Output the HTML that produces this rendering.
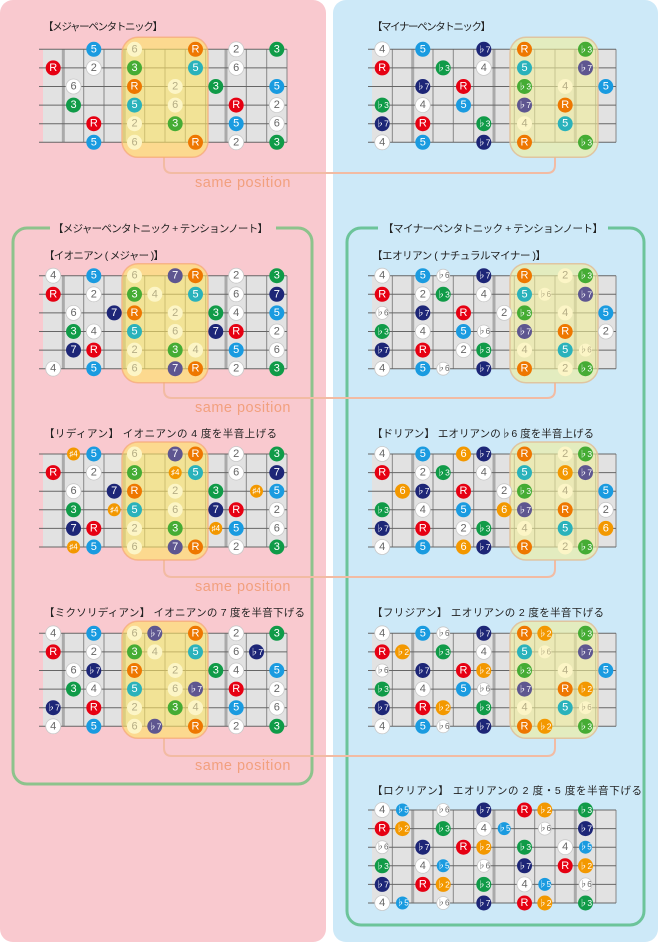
<!DOCTYPE html>
<html><head><meta charset="utf-8"><style>
html,body{margin:0;padding:0;background:#fff;width:658px;height:942px;overflow:hidden}
svg{display:block}
text{font-family:"Liberation Sans","Noto Sans CJK JP",sans-serif}
.n circle{r:7.5px}
.n text{font-size:11px;fill:#fff;text-anchor:middle;dominant-baseline:central}
.n .f{font-size:8.5px}
.s circle{r:6.5px}
.s text{font-size:8px}
.W circle{fill:#fff;stroke:#c8c8c8;stroke-width:.8}.W text{fill:#666}
.C circle{fill:#fcf5c6}.C text{fill:#b5ad85}
.R circle{fill:#e60012}.O circle{fill:#ee7700}.B circle{fill:#1a9be0}.T circle{fill:#2ab2bb}
.G circle{fill:#109b48}.L circle{fill:#45ac34}.N circle{fill:#1d2677}.P circle{fill:#5e5690}.Y circle{fill:#f39800}
.ttl{font-size:10.5px;fill:#222}
.sp{font-size:14.5px;fill:#f2a07e;letter-spacing:.5px}
.bl{fill:rgba(254,228,100,.6);stroke:rgba(245,170,120,.75);stroke-width:1.5}
.br{fill:rgba(242,238,153,.6);stroke:rgba(225,190,150,.85);stroke-width:1.5}
</style></head><body>
<svg width="658" height="942" viewBox="0 0 658 942" xmlns="http://www.w3.org/2000/svg">
<defs>
<g id="bdL">
<rect width="244" height="93" fill="#e2e2e2"/>
<g stroke="#aaa" stroke-width="3"><line x1="20.33" y1="0" x2="20.33" y2="93"/><line x1="81.3" y1="0" x2="81.3" y2="93"/><line x1="183" y1="0" x2="183" y2="93"/></g>
<g stroke="#888" stroke-width="1"><line x1="40.7" y1="0" x2="40.7" y2="93"/><line x1="61" y1="0" x2="61" y2="93"/><line x1="101.7" y1="0" x2="101.7" y2="93"/><line x1="122" y1="0" x2="122" y2="93"/><line x1="142.3" y1="0" x2="142.3" y2="93"/><line x1="162.7" y1="0" x2="162.7" y2="93"/><line x1="203.3" y1="0" x2="203.3" y2="93"/><line x1="223.7" y1="0" x2="223.7" y2="93"/><line x1="244" y1="0" x2="244" y2="93"/></g>
<g stroke="#666" stroke-width="1"><line x1="-4" y1="0" x2="244" y2="0"/><line x1="-4" y1="18.6" x2="244" y2="18.6"/><line x1="-4" y1="37.2" x2="244" y2="37.2"/><line x1="-4" y1="55.8" x2="244" y2="55.8"/><line x1="-4" y1="74.4" x2="244" y2="74.4"/><line x1="-4" y1="93" x2="244" y2="93"/></g>
</g>
<g id="bdR">
<rect width="244" height="93" fill="#e2e2e2"/>
<g stroke="#aaa" stroke-width="3"><line x1="40.7" y1="0" x2="40.7" y2="93"/><line x1="122" y1="0" x2="122" y2="93"/><line x1="203.3" y1="0" x2="203.3" y2="93"/></g>
<g stroke="#888" stroke-width="1"><line x1="20.33" y1="0" x2="20.33" y2="93"/><line x1="61" y1="0" x2="61" y2="93"/><line x1="81.3" y1="0" x2="81.3" y2="93"/><line x1="101.7" y1="0" x2="101.7" y2="93"/><line x1="142.3" y1="0" x2="142.3" y2="93"/><line x1="162.7" y1="0" x2="162.7" y2="93"/><line x1="183" y1="0" x2="183" y2="93"/><line x1="223.7" y1="0" x2="223.7" y2="93"/><line x1="244" y1="0" x2="244" y2="93"/></g>
<g stroke="#666" stroke-width="1"><line x1="-4" y1="0" x2="244" y2="0"/><line x1="-4" y1="18.6" x2="244" y2="18.6"/><line x1="-4" y1="37.2" x2="244" y2="37.2"/><line x1="-4" y1="55.8" x2="244" y2="55.8"/><line x1="-4" y1="74.4" x2="244" y2="74.4"/><line x1="-4" y1="93" x2="244" y2="93"/></g>
</g>
</defs>

<rect x="0" y="0" width="326" height="942" rx="13" fill="#f9c9cf"/>
<rect x="333" y="0" width="325" height="942" rx="13" fill="#cde9f8"/>

<rect x="13" y="228" width="299" height="556" rx="14" fill="none" stroke="#8dc38c" stroke-width="3"/>
<rect x="50" y="220" width="226" height="16" fill="#f9c9cf"/>
<text class="ttl" x="53" y="232" textLength="215">【メジャーペンタトニック + テンションノート】</text>
<rect x="347" y="228" width="297" height="697" rx="14" fill="none" stroke="#6cc49a" stroke-width="3"/>
<rect x="378" y="220" width="230" height="16" fill="#cde9f8"/>
<text class="ttl" x="383" y="232" textLength="220">【マイナーペンタトニック + テンションノート】</text>

<g fill="none" stroke="#f2bba3" stroke-width="2">
<path d="M164,157 V165 Q164,173 172,173 H547 Q555,173 555,165 V157"/>
<path d="M164,382 V390 Q164,398 172,398 H547 Q555,398 555,390 V382"/>
<path d="M164,560 V569 Q164,577 172,577 H547 Q555,577 555,569 V560"/>
<path d="M164,738 V748 Q164,756 172,756 H547 Q555,756 555,748 V738"/>
</g>
<text class="sp" x="195" y="187">same position</text>
<text class="sp" x="195" y="412">same position</text>
<text class="sp" x="195" y="591">same position</text>
<text class="sp" x="195" y="770">same position</text>

<text class="ttl" x="43" y="30" textLength="120">【メジャーペンタトニック】</text>
<text class="ttl" x="372" y="30" textLength="119">【マイナーペンタトニック】</text>
<text class="ttl" x="44" y="259" textLength="120">【イオニアン ( メジャー )】</text>
<text class="ttl" x="372" y="259" textLength="174">【エオリアン ( ナチュラルマイナー )】</text>
<text class="ttl" x="44" y="437" textLength="233">【リディアン】 イオニアンの 4 度を半音上げる</text>
<text class="ttl" x="372" y="437" textLength="222">【ドリアン】 エオリアンの♭6 度を半音上げる</text>
<text class="ttl" x="44" y="616" textLength="261">【ミクソリディアン】 イオニアンの 7 度を半音下げる</text>
<text class="ttl" x="372" y="616" textLength="232">【フリジアン】 エオリアンの 2 度を半音下げる</text>
<text class="ttl" x="372" y="794" textLength="270">【ロクリアン】 エオリアンの 2 度・5 度を半音下げる</text>

<g transform="translate(43,49.3)">
<use href="#bdL"/><rect class="bl" x="79" y="-12" width="86" height="120" rx="16"/>
<g class="n">
<g class="B" transform="translate(50.8,0)"><circle/><text>5</text></g>
<g class="C" transform="translate(91.5,0)"><circle/><text>6</text></g>
<g class="O" transform="translate(152.5,0)"><circle/><text>R</text></g>
<g class="W" transform="translate(193.2,0)"><circle/><text>2</text></g>
<g class="G" transform="translate(233.8,0)"><circle/><text>3</text></g>
<g class="R" transform="translate(10.2,18.6)"><circle/><text>R</text></g>
<g class="W" transform="translate(50.8,18.6)"><circle/><text>2</text></g>
<g class="L" transform="translate(91.5,18.6)"><circle/><text>3</text></g>
<g class="T" transform="translate(152.5,18.6)"><circle/><text>5</text></g>
<g class="W" transform="translate(193.2,18.6)"><circle/><text>6</text></g>
<g class="W" transform="translate(30.5,37.2)"><circle/><text>6</text></g>
<g class="O" transform="translate(91.5,37.2)"><circle/><text>R</text></g>
<g class="C" transform="translate(132.2,37.2)"><circle/><text>2</text></g>
<g class="G" transform="translate(172.8,37.2)"><circle/><text>3</text></g>
<g class="B" transform="translate(233.8,37.2)"><circle/><text>5</text></g>
<g class="G" transform="translate(30.5,55.8)"><circle/><text>3</text></g>
<g class="T" transform="translate(91.5,55.8)"><circle/><text>5</text></g>
<g class="C" transform="translate(132.2,55.8)"><circle/><text>6</text></g>
<g class="R" transform="translate(193.2,55.8)"><circle/><text>R</text></g>
<g class="W" transform="translate(233.8,55.8)"><circle/><text>2</text></g>
<g class="R" transform="translate(50.8,74.4)"><circle/><text>R</text></g>
<g class="C" transform="translate(91.5,74.4)"><circle/><text>2</text></g>
<g class="L" transform="translate(132.2,74.4)"><circle/><text>3</text></g>
<g class="B" transform="translate(193.2,74.4)"><circle/><text>5</text></g>
<g class="W" transform="translate(233.8,74.4)"><circle/><text>6</text></g>
<g class="B" transform="translate(50.8,93)"><circle/><text>5</text></g>
<g class="C" transform="translate(91.5,93)"><circle/><text>6</text></g>
<g class="O" transform="translate(152.5,93)"><circle/><text>R</text></g>
<g class="W" transform="translate(193.2,93)"><circle/><text>2</text></g>
<g class="G" transform="translate(233.8,93)"><circle/><text>3</text></g>
</g></g>

<g transform="translate(372,49.3)">
<use href="#bdR"/><rect class="br" x="138" y="-12" width="88" height="120" rx="16"/>
<g class="n">
<g class="W" transform="translate(10.2,0)"><circle/><text>4</text></g>
<g class="B" transform="translate(50.8,0)"><circle/><text>5</text></g>
<g class="N" transform="translate(111.8,0)"><circle/><text class="f">♭7</text></g>
<g class="O" transform="translate(152.5,0)"><circle/><text>R</text></g>
<g class="L" transform="translate(213.5,0)"><circle/><text class="f">♭3</text></g>
<g class="R" transform="translate(10.2,18.6)"><circle/><text>R</text></g>
<g class="G" transform="translate(71.2,18.6)"><circle/><text class="f">♭3</text></g>
<g class="W" transform="translate(111.8,18.6)"><circle/><text>4</text></g>
<g class="T" transform="translate(152.5,18.6)"><circle/><text>5</text></g>
<g class="P" transform="translate(213.5,18.6)"><circle/><text class="f">♭7</text></g>
<g class="N" transform="translate(50.8,37.2)"><circle/><text class="f">♭7</text></g>
<g class="R" transform="translate(91.5,37.2)"><circle/><text>R</text></g>
<g class="L" transform="translate(152.5,37.2)"><circle/><text class="f">♭3</text></g>
<g class="C" transform="translate(193.2,37.2)"><circle/><text>4</text></g>
<g class="B" transform="translate(233.8,37.2)"><circle/><text>5</text></g>
<g class="G" transform="translate(10.2,55.8)"><circle/><text class="f">♭3</text></g>
<g class="W" transform="translate(50.8,55.8)"><circle/><text>4</text></g>
<g class="B" transform="translate(91.5,55.8)"><circle/><text>5</text></g>
<g class="P" transform="translate(152.5,55.8)"><circle/><text class="f">♭7</text></g>
<g class="O" transform="translate(193.2,55.8)"><circle/><text>R</text></g>
<g class="N" transform="translate(10.2,74.4)"><circle/><text class="f">♭7</text></g>
<g class="R" transform="translate(50.8,74.4)"><circle/><text>R</text></g>
<g class="G" transform="translate(111.8,74.4)"><circle/><text class="f">♭3</text></g>
<g class="C" transform="translate(152.5,74.4)"><circle/><text>4</text></g>
<g class="T" transform="translate(193.2,74.4)"><circle/><text>5</text></g>
<g class="W" transform="translate(10.2,93)"><circle/><text>4</text></g>
<g class="B" transform="translate(50.8,93)"><circle/><text>5</text></g>
<g class="N" transform="translate(111.8,93)"><circle/><text class="f">♭7</text></g>
<g class="O" transform="translate(152.5,93)"><circle/><text>R</text></g>
<g class="L" transform="translate(213.5,93)"><circle/><text class="f">♭3</text></g>
</g></g>

<g transform="translate(43,275.7)">
<use href="#bdL"/><rect class="bl" x="79" y="-12" width="86" height="119" rx="16"/>
<g class="n">
<g class="W" transform="translate(10.2,0)"><circle/><text>4</text></g>
<g class="B" transform="translate(50.8,0)"><circle/><text>5</text></g>
<g class="C" transform="translate(91.5,0)"><circle/><text>6</text></g>
<g class="P" transform="translate(132.2,0)"><circle/><text>7</text></g>
<g class="O" transform="translate(152.5,0)"><circle/><text>R</text></g>
<g class="W" transform="translate(193.2,0)"><circle/><text>2</text></g>
<g class="G" transform="translate(233.8,0)"><circle/><text>3</text></g>
<g class="R" transform="translate(10.2,18.6)"><circle/><text>R</text></g>
<g class="W" transform="translate(50.8,18.6)"><circle/><text>2</text></g>
<g class="L" transform="translate(91.5,18.6)"><circle/><text>3</text></g>
<g class="C" transform="translate(111.8,18.6)"><circle/><text>4</text></g>
<g class="T" transform="translate(152.5,18.6)"><circle/><text>5</text></g>
<g class="W" transform="translate(193.2,18.6)"><circle/><text>6</text></g>
<g class="N" transform="translate(233.8,18.6)"><circle/><text>7</text></g>
<g class="W" transform="translate(30.5,37.2)"><circle/><text>6</text></g>
<g class="N" transform="translate(71.2,37.2)"><circle/><text>7</text></g>
<g class="O" transform="translate(91.5,37.2)"><circle/><text>R</text></g>
<g class="C" transform="translate(132.2,37.2)"><circle/><text>2</text></g>
<g class="G" transform="translate(172.8,37.2)"><circle/><text>3</text></g>
<g class="W" transform="translate(193.2,37.2)"><circle/><text>4</text></g>
<g class="B" transform="translate(233.8,37.2)"><circle/><text>5</text></g>
<g class="G" transform="translate(30.5,55.8)"><circle/><text>3</text></g>
<g class="W" transform="translate(50.8,55.8)"><circle/><text>4</text></g>
<g class="T" transform="translate(91.5,55.8)"><circle/><text>5</text></g>
<g class="C" transform="translate(132.2,55.8)"><circle/><text>6</text></g>
<g class="N" transform="translate(172.8,55.8)"><circle/><text>7</text></g>
<g class="R" transform="translate(193.2,55.8)"><circle/><text>R</text></g>
<g class="W" transform="translate(233.8,55.8)"><circle/><text>2</text></g>
<g class="N" transform="translate(30.5,74.4)"><circle/><text>7</text></g>
<g class="R" transform="translate(50.8,74.4)"><circle/><text>R</text></g>
<g class="C" transform="translate(91.5,74.4)"><circle/><text>2</text></g>
<g class="L" transform="translate(132.2,74.4)"><circle/><text>3</text></g>
<g class="C" transform="translate(152.5,74.4)"><circle/><text>4</text></g>
<g class="B" transform="translate(193.2,74.4)"><circle/><text>5</text></g>
<g class="W" transform="translate(233.8,74.4)"><circle/><text>6</text></g>
<g class="W" transform="translate(10.2,93)"><circle/><text>4</text></g>
<g class="B" transform="translate(50.8,93)"><circle/><text>5</text></g>
<g class="C" transform="translate(91.5,93)"><circle/><text>6</text></g>
<g class="P" transform="translate(132.2,93)"><circle/><text>7</text></g>
<g class="O" transform="translate(152.5,93)"><circle/><text>R</text></g>
<g class="W" transform="translate(193.2,93)"><circle/><text>2</text></g>
<g class="G" transform="translate(233.8,93)"><circle/><text>3</text></g>
</g></g>

<g transform="translate(372,275.7)">
<use href="#bdR"/><rect class="br" x="138" y="-12" width="88" height="119" rx="16"/>
<g class="n">
<g class="W" transform="translate(10.2,0)"><circle/><text>4</text></g>
<g class="B" transform="translate(50.8,0)"><circle/><text>5</text></g>
<g class="W s" transform="translate(71.2,0)"><circle/><text>♭6</text></g>
<g class="N" transform="translate(111.8,0)"><circle/><text class="f">♭7</text></g>
<g class="O" transform="translate(152.5,0)"><circle/><text>R</text></g>
<g class="C" transform="translate(193.2,0)"><circle/><text>2</text></g>
<g class="L" transform="translate(213.5,0)"><circle/><text class="f">♭3</text></g>
<g class="R" transform="translate(10.2,18.6)"><circle/><text>R</text></g>
<g class="W" transform="translate(50.8,18.6)"><circle/><text>2</text></g>
<g class="G" transform="translate(71.2,18.6)"><circle/><text class="f">♭3</text></g>
<g class="W" transform="translate(111.8,18.6)"><circle/><text>4</text></g>
<g class="T" transform="translate(152.5,18.6)"><circle/><text>5</text></g>
<g class="C s" transform="translate(172.8,18.6)"><circle/><text>♭6</text></g>
<g class="P" transform="translate(213.5,18.6)"><circle/><text class="f">♭7</text></g>
<g class="W s" transform="translate(10.2,37.2)"><circle/><text>♭6</text></g>
<g class="N" transform="translate(50.8,37.2)"><circle/><text class="f">♭7</text></g>
<g class="R" transform="translate(91.5,37.2)"><circle/><text>R</text></g>
<g class="W" transform="translate(132.2,37.2)"><circle/><text>2</text></g>
<g class="L" transform="translate(152.5,37.2)"><circle/><text class="f">♭3</text></g>
<g class="C" transform="translate(193.2,37.2)"><circle/><text>4</text></g>
<g class="B" transform="translate(233.8,37.2)"><circle/><text>5</text></g>
<g class="G" transform="translate(10.2,55.8)"><circle/><text class="f">♭3</text></g>
<g class="W" transform="translate(50.8,55.8)"><circle/><text>4</text></g>
<g class="B" transform="translate(91.5,55.8)"><circle/><text>5</text></g>
<g class="W s" transform="translate(111.8,55.8)"><circle/><text>♭6</text></g>
<g class="P" transform="translate(152.5,55.8)"><circle/><text class="f">♭7</text></g>
<g class="O" transform="translate(193.2,55.8)"><circle/><text>R</text></g>
<g class="W" transform="translate(233.8,55.8)"><circle/><text>2</text></g>
<g class="N" transform="translate(10.2,74.4)"><circle/><text class="f">♭7</text></g>
<g class="R" transform="translate(50.8,74.4)"><circle/><text>R</text></g>
<g class="W" transform="translate(91.5,74.4)"><circle/><text>2</text></g>
<g class="G" transform="translate(111.8,74.4)"><circle/><text class="f">♭3</text></g>
<g class="C" transform="translate(152.5,74.4)"><circle/><text>4</text></g>
<g class="T" transform="translate(193.2,74.4)"><circle/><text>5</text></g>
<g class="C s" transform="translate(213.5,74.4)"><circle/><text>♭6</text></g>
<g class="W" transform="translate(10.2,93)"><circle/><text>4</text></g>
<g class="B" transform="translate(50.8,93)"><circle/><text>5</text></g>
<g class="W s" transform="translate(71.2,93)"><circle/><text>♭6</text></g>
<g class="N" transform="translate(111.8,93)"><circle/><text class="f">♭7</text></g>
<g class="O" transform="translate(152.5,93)"><circle/><text>R</text></g>
<g class="C" transform="translate(193.2,93)"><circle/><text>2</text></g>
<g class="L" transform="translate(213.5,93)"><circle/><text class="f">♭3</text></g>
</g></g>

<g transform="translate(43,454)">
<use href="#bdL"/><rect class="bl" x="79" y="-12" width="86" height="118" rx="16"/>
<g class="n">
<g class="Y s" transform="translate(30.5,0)"><circle/><text>♯4</text></g>
<g class="B" transform="translate(50.8,0)"><circle/><text>5</text></g>
<g class="C" transform="translate(91.5,0)"><circle/><text>6</text></g>
<g class="P" transform="translate(132.2,0)"><circle/><text>7</text></g>
<g class="O" transform="translate(152.5,0)"><circle/><text>R</text></g>
<g class="W" transform="translate(193.2,0)"><circle/><text>2</text></g>
<g class="G" transform="translate(233.8,0)"><circle/><text>3</text></g>
<g class="R" transform="translate(10.2,18.6)"><circle/><text>R</text></g>
<g class="W" transform="translate(50.8,18.6)"><circle/><text>2</text></g>
<g class="L" transform="translate(91.5,18.6)"><circle/><text>3</text></g>
<g class="Y s" transform="translate(132.2,18.6)"><circle/><text>♯4</text></g>
<g class="T" transform="translate(152.5,18.6)"><circle/><text>5</text></g>
<g class="W" transform="translate(193.2,18.6)"><circle/><text>6</text></g>
<g class="N" transform="translate(233.8,18.6)"><circle/><text>7</text></g>
<g class="W" transform="translate(30.5,37.2)"><circle/><text>6</text></g>
<g class="N" transform="translate(71.2,37.2)"><circle/><text>7</text></g>
<g class="O" transform="translate(91.5,37.2)"><circle/><text>R</text></g>
<g class="C" transform="translate(132.2,37.2)"><circle/><text>2</text></g>
<g class="G" transform="translate(172.8,37.2)"><circle/><text>3</text></g>
<g class="Y s" transform="translate(213.5,37.2)"><circle/><text>♯4</text></g>
<g class="B" transform="translate(233.8,37.2)"><circle/><text>5</text></g>
<g class="G" transform="translate(30.5,55.8)"><circle/><text>3</text></g>
<g class="Y s" transform="translate(71.2,55.8)"><circle/><text>♯4</text></g>
<g class="T" transform="translate(91.5,55.8)"><circle/><text>5</text></g>
<g class="C" transform="translate(132.2,55.8)"><circle/><text>6</text></g>
<g class="N" transform="translate(172.8,55.8)"><circle/><text>7</text></g>
<g class="R" transform="translate(193.2,55.8)"><circle/><text>R</text></g>
<g class="W" transform="translate(233.8,55.8)"><circle/><text>2</text></g>
<g class="N" transform="translate(30.5,74.4)"><circle/><text>7</text></g>
<g class="R" transform="translate(50.8,74.4)"><circle/><text>R</text></g>
<g class="C" transform="translate(91.5,74.4)"><circle/><text>2</text></g>
<g class="L" transform="translate(132.2,74.4)"><circle/><text>3</text></g>
<g class="Y s" transform="translate(172.8,74.4)"><circle/><text>♯4</text></g>
<g class="B" transform="translate(193.2,74.4)"><circle/><text>5</text></g>
<g class="W" transform="translate(233.8,74.4)"><circle/><text>6</text></g>
<g class="Y s" transform="translate(30.5,93)"><circle/><text>♯4</text></g>
<g class="B" transform="translate(50.8,93)"><circle/><text>5</text></g>
<g class="C" transform="translate(91.5,93)"><circle/><text>6</text></g>
<g class="P" transform="translate(132.2,93)"><circle/><text>7</text></g>
<g class="O" transform="translate(152.5,93)"><circle/><text>R</text></g>
<g class="W" transform="translate(193.2,93)"><circle/><text>2</text></g>
<g class="G" transform="translate(233.8,93)"><circle/><text>3</text></g>
</g></g>

<g transform="translate(372,454)">
<use href="#bdR"/><rect class="br" x="138" y="-12" width="88" height="118" rx="16"/>
<g class="n">
<g class="W" transform="translate(10.2,0)"><circle/><text>4</text></g>
<g class="B" transform="translate(50.8,0)"><circle/><text>5</text></g>
<g class="Y" transform="translate(91.5,0)"><circle/><text>6</text></g>
<g class="N" transform="translate(111.8,0)"><circle/><text class="f">♭7</text></g>
<g class="O" transform="translate(152.5,0)"><circle/><text>R</text></g>
<g class="C" transform="translate(193.2,0)"><circle/><text>2</text></g>
<g class="L" transform="translate(213.5,0)"><circle/><text class="f">♭3</text></g>
<g class="R" transform="translate(10.2,18.6)"><circle/><text>R</text></g>
<g class="W" transform="translate(50.8,18.6)"><circle/><text>2</text></g>
<g class="G" transform="translate(71.2,18.6)"><circle/><text class="f">♭3</text></g>
<g class="W" transform="translate(111.8,18.6)"><circle/><text>4</text></g>
<g class="T" transform="translate(152.5,18.6)"><circle/><text>5</text></g>
<g class="Y" transform="translate(193.2,18.6)"><circle/><text>6</text></g>
<g class="P" transform="translate(213.5,18.6)"><circle/><text class="f">♭7</text></g>
<g class="Y" transform="translate(30.5,37.2)"><circle/><text>6</text></g>
<g class="N" transform="translate(50.8,37.2)"><circle/><text class="f">♭7</text></g>
<g class="R" transform="translate(91.5,37.2)"><circle/><text>R</text></g>
<g class="W" transform="translate(132.2,37.2)"><circle/><text>2</text></g>
<g class="L" transform="translate(152.5,37.2)"><circle/><text class="f">♭3</text></g>
<g class="C" transform="translate(193.2,37.2)"><circle/><text>4</text></g>
<g class="B" transform="translate(233.8,37.2)"><circle/><text>5</text></g>
<g class="G" transform="translate(10.2,55.8)"><circle/><text class="f">♭3</text></g>
<g class="W" transform="translate(50.8,55.8)"><circle/><text>4</text></g>
<g class="B" transform="translate(91.5,55.8)"><circle/><text>5</text></g>
<g class="Y" transform="translate(132.2,55.8)"><circle/><text>6</text></g>
<g class="P" transform="translate(152.5,55.8)"><circle/><text class="f">♭7</text></g>
<g class="O" transform="translate(193.2,55.8)"><circle/><text>R</text></g>
<g class="W" transform="translate(233.8,55.8)"><circle/><text>2</text></g>
<g class="N" transform="translate(10.2,74.4)"><circle/><text class="f">♭7</text></g>
<g class="R" transform="translate(50.8,74.4)"><circle/><text>R</text></g>
<g class="W" transform="translate(91.5,74.4)"><circle/><text>2</text></g>
<g class="G" transform="translate(111.8,74.4)"><circle/><text class="f">♭3</text></g>
<g class="C" transform="translate(152.5,74.4)"><circle/><text>4</text></g>
<g class="T" transform="translate(193.2,74.4)"><circle/><text>5</text></g>
<g class="Y" transform="translate(233.8,74.4)"><circle/><text>6</text></g>
<g class="W" transform="translate(10.2,93)"><circle/><text>4</text></g>
<g class="B" transform="translate(50.8,93)"><circle/><text>5</text></g>
<g class="Y" transform="translate(91.5,93)"><circle/><text>6</text></g>
<g class="N" transform="translate(111.8,93)"><circle/><text class="f">♭7</text></g>
<g class="O" transform="translate(152.5,93)"><circle/><text>R</text></g>
<g class="C" transform="translate(193.2,93)"><circle/><text>2</text></g>
<g class="L" transform="translate(213.5,93)"><circle/><text class="f">♭3</text></g>
</g></g>

<g transform="translate(43,633.3)">
<use href="#bdL"/><rect class="bl" x="79" y="-12" width="86" height="117" rx="16"/>
<g class="n">
<g class="W" transform="translate(10.2,0)"><circle/><text>4</text></g>
<g class="B" transform="translate(50.8,0)"><circle/><text>5</text></g>
<g class="C" transform="translate(91.5,0)"><circle/><text>6</text></g>
<g class="P" transform="translate(111.8,0)"><circle/><text class="f">♭7</text></g>
<g class="O" transform="translate(152.5,0)"><circle/><text>R</text></g>
<g class="W" transform="translate(193.2,0)"><circle/><text>2</text></g>
<g class="G" transform="translate(233.8,0)"><circle/><text>3</text></g>
<g class="R" transform="translate(10.2,18.6)"><circle/><text>R</text></g>
<g class="W" transform="translate(50.8,18.6)"><circle/><text>2</text></g>
<g class="L" transform="translate(91.5,18.6)"><circle/><text>3</text></g>
<g class="C" transform="translate(111.8,18.6)"><circle/><text>4</text></g>
<g class="T" transform="translate(152.5,18.6)"><circle/><text>5</text></g>
<g class="W" transform="translate(193.2,18.6)"><circle/><text>6</text></g>
<g class="N" transform="translate(213.5,18.6)"><circle/><text class="f">♭7</text></g>
<g class="W" transform="translate(30.5,37.2)"><circle/><text>6</text></g>
<g class="N" transform="translate(50.8,37.2)"><circle/><text class="f">♭7</text></g>
<g class="O" transform="translate(91.5,37.2)"><circle/><text>R</text></g>
<g class="C" transform="translate(132.2,37.2)"><circle/><text>2</text></g>
<g class="G" transform="translate(172.8,37.2)"><circle/><text>3</text></g>
<g class="W" transform="translate(193.2,37.2)"><circle/><text>4</text></g>
<g class="B" transform="translate(233.8,37.2)"><circle/><text>5</text></g>
<g class="G" transform="translate(30.5,55.8)"><circle/><text>3</text></g>
<g class="W" transform="translate(50.8,55.8)"><circle/><text>4</text></g>
<g class="T" transform="translate(91.5,55.8)"><circle/><text>5</text></g>
<g class="C" transform="translate(132.2,55.8)"><circle/><text>6</text></g>
<g class="P" transform="translate(152.5,55.8)"><circle/><text class="f">♭7</text></g>
<g class="R" transform="translate(193.2,55.8)"><circle/><text>R</text></g>
<g class="W" transform="translate(233.8,55.8)"><circle/><text>2</text></g>
<g class="N" transform="translate(10.2,74.4)"><circle/><text class="f">♭7</text></g>
<g class="R" transform="translate(50.8,74.4)"><circle/><text>R</text></g>
<g class="C" transform="translate(91.5,74.4)"><circle/><text>2</text></g>
<g class="L" transform="translate(132.2,74.4)"><circle/><text>3</text></g>
<g class="C" transform="translate(152.5,74.4)"><circle/><text>4</text></g>
<g class="B" transform="translate(193.2,74.4)"><circle/><text>5</text></g>
<g class="W" transform="translate(233.8,74.4)"><circle/><text>6</text></g>
<g class="W" transform="translate(10.2,93)"><circle/><text>4</text></g>
<g class="B" transform="translate(50.8,93)"><circle/><text>5</text></g>
<g class="C" transform="translate(91.5,93)"><circle/><text>6</text></g>
<g class="P" transform="translate(111.8,93)"><circle/><text class="f">♭7</text></g>
<g class="O" transform="translate(152.5,93)"><circle/><text>R</text></g>
<g class="W" transform="translate(193.2,93)"><circle/><text>2</text></g>
<g class="G" transform="translate(233.8,93)"><circle/><text>3</text></g>
</g></g>

<g transform="translate(372,633.3)">
<use href="#bdR"/><rect class="br" x="138" y="-12" width="88" height="117" rx="16"/>
<g class="n">
<g class="W" transform="translate(10.2,0)"><circle/><text>4</text></g>
<g class="B" transform="translate(50.8,0)"><circle/><text>5</text></g>
<g class="W s" transform="translate(71.2,0)"><circle/><text>♭6</text></g>
<g class="N" transform="translate(111.8,0)"><circle/><text class="f">♭7</text></g>
<g class="O" transform="translate(152.5,0)"><circle/><text>R</text></g>
<g class="Y" transform="translate(172.8,0)"><circle/><text class="f">♭2</text></g>
<g class="L" transform="translate(213.5,0)"><circle/><text class="f">♭3</text></g>
<g class="R" transform="translate(10.2,18.6)"><circle/><text>R</text></g>
<g class="Y" transform="translate(30.5,18.6)"><circle/><text class="f">♭2</text></g>
<g class="G" transform="translate(71.2,18.6)"><circle/><text class="f">♭3</text></g>
<g class="W" transform="translate(111.8,18.6)"><circle/><text>4</text></g>
<g class="T" transform="translate(152.5,18.6)"><circle/><text>5</text></g>
<g class="C s" transform="translate(172.8,18.6)"><circle/><text>♭6</text></g>
<g class="P" transform="translate(213.5,18.6)"><circle/><text class="f">♭7</text></g>
<g class="W s" transform="translate(10.2,37.2)"><circle/><text>♭6</text></g>
<g class="N" transform="translate(50.8,37.2)"><circle/><text class="f">♭7</text></g>
<g class="R" transform="translate(91.5,37.2)"><circle/><text>R</text></g>
<g class="Y" transform="translate(111.8,37.2)"><circle/><text class="f">♭2</text></g>
<g class="L" transform="translate(152.5,37.2)"><circle/><text class="f">♭3</text></g>
<g class="C" transform="translate(193.2,37.2)"><circle/><text>4</text></g>
<g class="B" transform="translate(233.8,37.2)"><circle/><text>5</text></g>
<g class="G" transform="translate(10.2,55.8)"><circle/><text class="f">♭3</text></g>
<g class="W" transform="translate(50.8,55.8)"><circle/><text>4</text></g>
<g class="B" transform="translate(91.5,55.8)"><circle/><text>5</text></g>
<g class="W s" transform="translate(111.8,55.8)"><circle/><text>♭6</text></g>
<g class="P" transform="translate(152.5,55.8)"><circle/><text class="f">♭7</text></g>
<g class="O" transform="translate(193.2,55.8)"><circle/><text>R</text></g>
<g class="Y" transform="translate(213.5,55.8)"><circle/><text class="f">♭2</text></g>
<g class="N" transform="translate(10.2,74.4)"><circle/><text class="f">♭7</text></g>
<g class="R" transform="translate(50.8,74.4)"><circle/><text>R</text></g>
<g class="Y" transform="translate(71.2,74.4)"><circle/><text class="f">♭2</text></g>
<g class="G" transform="translate(111.8,74.4)"><circle/><text class="f">♭3</text></g>
<g class="C" transform="translate(152.5,74.4)"><circle/><text>4</text></g>
<g class="T" transform="translate(193.2,74.4)"><circle/><text>5</text></g>
<g class="C s" transform="translate(213.5,74.4)"><circle/><text>♭6</text></g>
<g class="W" transform="translate(10.2,93)"><circle/><text>4</text></g>
<g class="B" transform="translate(50.8,93)"><circle/><text>5</text></g>
<g class="W s" transform="translate(71.2,93)"><circle/><text>♭6</text></g>
<g class="N" transform="translate(111.8,93)"><circle/><text class="f">♭7</text></g>
<g class="O" transform="translate(152.5,93)"><circle/><text>R</text></g>
<g class="Y" transform="translate(172.8,93)"><circle/><text class="f">♭2</text></g>
<g class="L" transform="translate(213.5,93)"><circle/><text class="f">♭3</text></g>
</g></g>

<g transform="translate(372,810)">
<use href="#bdR"/>
<g class="n">
<g class="W" transform="translate(10.2,0)"><circle/><text>4</text></g>
<g class="B s" transform="translate(30.5,0)"><circle/><text>♭5</text></g>
<g class="W s" transform="translate(71.2,0)"><circle/><text>♭6</text></g>
<g class="N" transform="translate(111.8,0)"><circle/><text class="f">♭7</text></g>
<g class="R" transform="translate(152.5,0)"><circle/><text>R</text></g>
<g class="Y" transform="translate(172.8,0)"><circle/><text class="f">♭2</text></g>
<g class="G" transform="translate(213.5,0)"><circle/><text class="f">♭3</text></g>
<g class="R" transform="translate(10.2,18.6)"><circle/><text>R</text></g>
<g class="Y" transform="translate(30.5,18.6)"><circle/><text class="f">♭2</text></g>
<g class="G" transform="translate(71.2,18.6)"><circle/><text class="f">♭3</text></g>
<g class="W" transform="translate(111.8,18.6)"><circle/><text>4</text></g>
<g class="B s" transform="translate(132.2,18.6)"><circle/><text>♭5</text></g>
<g class="W s" transform="translate(172.8,18.6)"><circle/><text>♭6</text></g>
<g class="N" transform="translate(213.5,18.6)"><circle/><text class="f">♭7</text></g>
<g class="W s" transform="translate(10.2,37.2)"><circle/><text>♭6</text></g>
<g class="N" transform="translate(50.8,37.2)"><circle/><text class="f">♭7</text></g>
<g class="R" transform="translate(91.5,37.2)"><circle/><text>R</text></g>
<g class="Y" transform="translate(111.8,37.2)"><circle/><text class="f">♭2</text></g>
<g class="G" transform="translate(152.5,37.2)"><circle/><text class="f">♭3</text></g>
<g class="W" transform="translate(193.2,37.2)"><circle/><text>4</text></g>
<g class="B s" transform="translate(213.5,37.2)"><circle/><text>♭5</text></g>
<g class="G" transform="translate(10.2,55.8)"><circle/><text class="f">♭3</text></g>
<g class="W" transform="translate(50.8,55.8)"><circle/><text>4</text></g>
<g class="B s" transform="translate(71.2,55.8)"><circle/><text>♭5</text></g>
<g class="W s" transform="translate(111.8,55.8)"><circle/><text>♭6</text></g>
<g class="N" transform="translate(152.5,55.8)"><circle/><text class="f">♭7</text></g>
<g class="R" transform="translate(193.2,55.8)"><circle/><text>R</text></g>
<g class="Y" transform="translate(213.5,55.8)"><circle/><text class="f">♭2</text></g>
<g class="N" transform="translate(10.2,74.4)"><circle/><text class="f">♭7</text></g>
<g class="R" transform="translate(50.8,74.4)"><circle/><text>R</text></g>
<g class="Y" transform="translate(71.2,74.4)"><circle/><text class="f">♭2</text></g>
<g class="G" transform="translate(111.8,74.4)"><circle/><text class="f">♭3</text></g>
<g class="W" transform="translate(152.5,74.4)"><circle/><text>4</text></g>
<g class="B s" transform="translate(172.8,74.4)"><circle/><text>♭5</text></g>
<g class="W s" transform="translate(213.5,74.4)"><circle/><text>♭6</text></g>
<g class="W" transform="translate(10.2,93)"><circle/><text>4</text></g>
<g class="B s" transform="translate(30.5,93)"><circle/><text>♭5</text></g>
<g class="W s" transform="translate(71.2,93)"><circle/><text>♭6</text></g>
<g class="N" transform="translate(111.8,93)"><circle/><text class="f">♭7</text></g>
<g class="R" transform="translate(152.5,93)"><circle/><text>R</text></g>
<g class="Y" transform="translate(172.8,93)"><circle/><text class="f">♭2</text></g>
<g class="G" transform="translate(213.5,93)"><circle/><text class="f">♭3</text></g>
</g></g>
</svg>
</body></html>
